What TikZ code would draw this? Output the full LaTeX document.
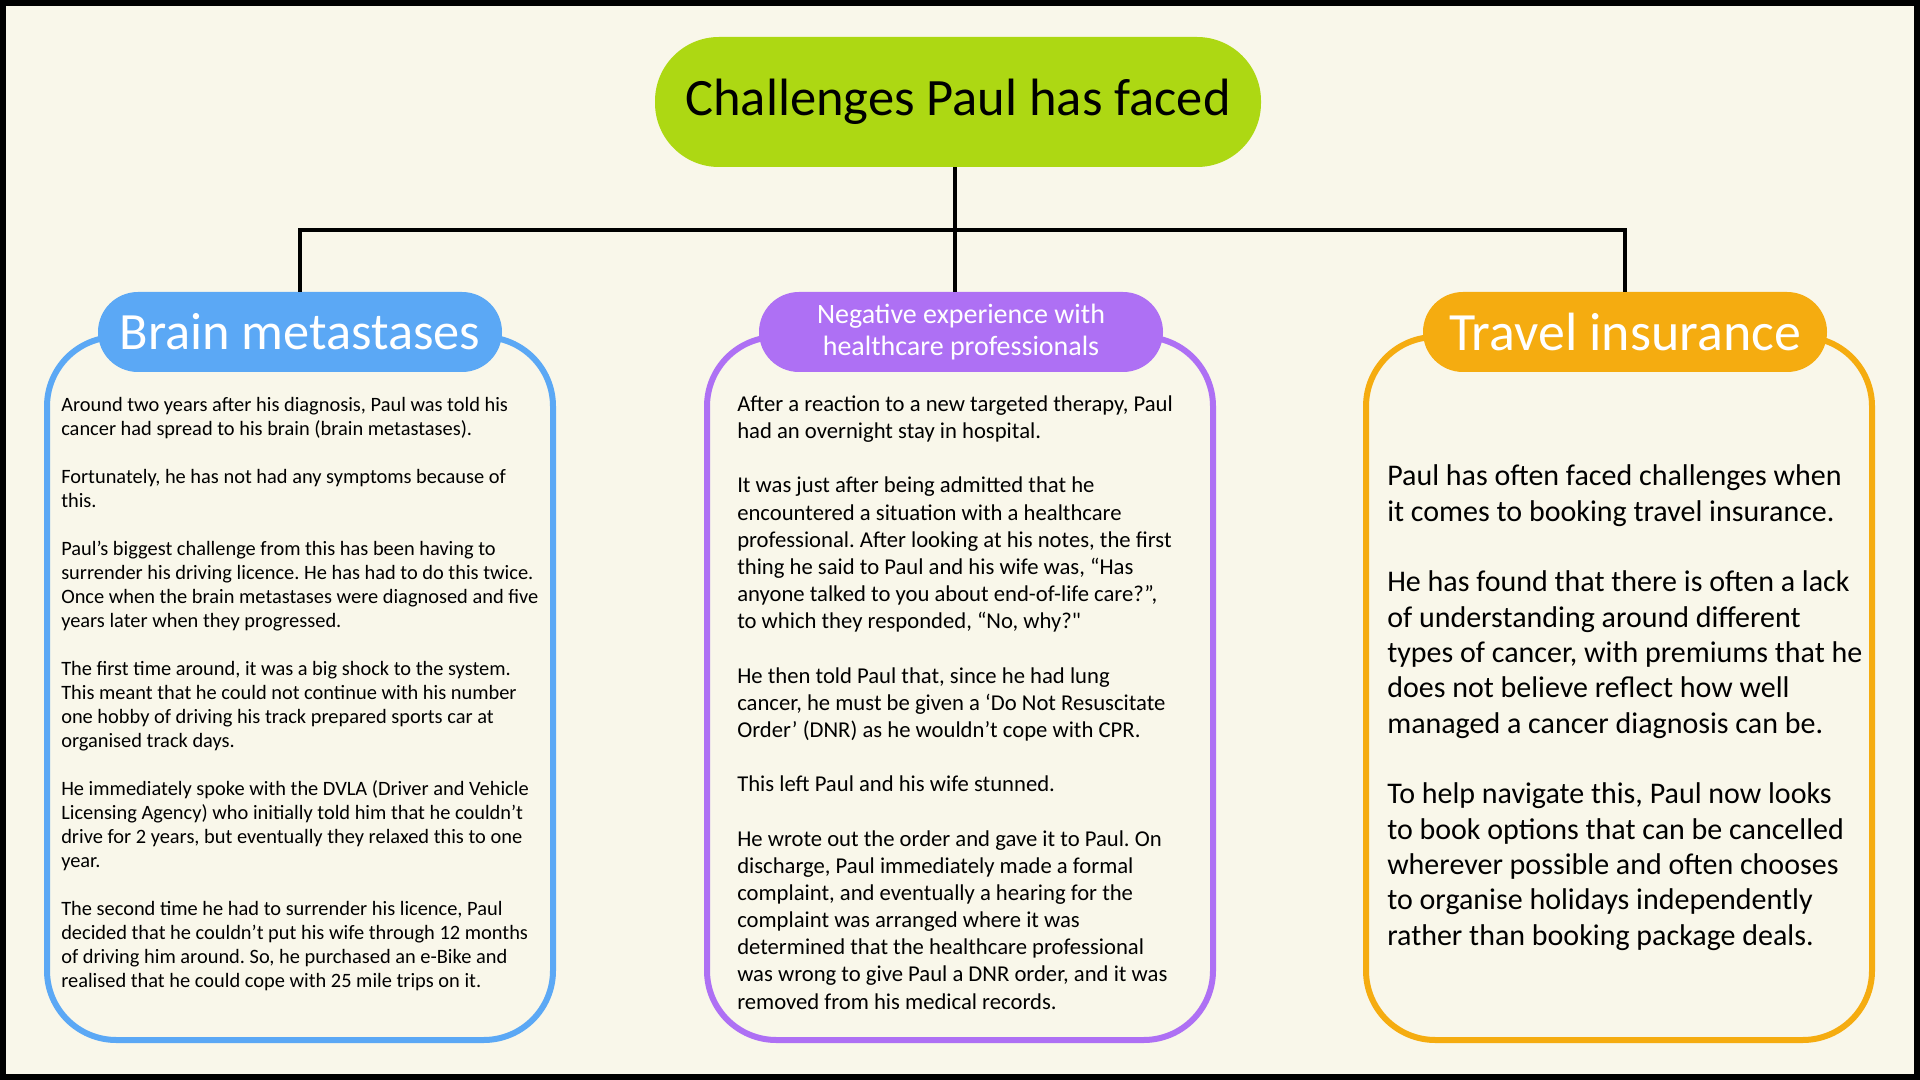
\documentclass[tikz,border=0pt]{standalone}
\usepackage{fontspec}
\setmainfont{Carlito}[Ligatures=TeXOff]
\frenchspacing
\definecolor{bg}{HTML}{F9F7EA}
\definecolor{lime}{HTML}{ADD813}
\definecolor{cblue}{HTML}{5BA8F5}
\definecolor{cpurple}{HTML}{AE70F4}
\definecolor{corange}{HTML}{F5AC10}
\tikzset{
  outlinebox/.style={draw=#1, line width=4.5pt, rounded corners=52pt, minimum width=379.5pt, minimum height=527.25pt, inner sep=0pt},
  pill/.style={fill=#1, rounded corners=30pt, minimum width=303pt, minimum height=60pt, text=white, inner sep=0pt, align=center},
  bodytext/.style={anchor=base west, align=left, inner sep=0pt},
  link/.style={line width=3pt, black},
}
\begin{document}
\begin{tikzpicture}[x=0.75pt,y=-0.75pt]
\useasboundingbox (0,0) rectangle (1920,1080);
\fill[bg] (0,0) rectangle (1920,1080);
\draw[line width=9pt] (0,0) rectangle (1920,1080);

% outline boxes
\node[outlinebox=cblue] (lbox) at (300,688.5) {};
\node[outlinebox=cpurple] (mbox) at (960,688.5) {};
\node[outlinebox=corange] (rbox) at (1619,688.5) {};

% title
\node[fill=lime, rounded corners=48pt, minimum width=454.5pt, minimum height=97.5pt, inner sep=0pt, font=\fontsize{39.4}{48}\selectfont] (title) at (958,102) {Challenges Paul has faced};

% pills
\node[pill=cblue, font=\fontsize{39.3}{48}\selectfont] (lpill) at (300,332) {Brain metastases};
\node[pill=cpurple, font=\fontsize{21}{24}\selectfont] (mpill) at (961,332) {Negative experience with\\healthcare professionals};
\node[pill=corange, font=\fontsize{40.4}{48}\selectfont] (rpill) at (1625,332) {Travel insurance};

% connectors
\coordinate (bar) at (955,230);
\draw[link] (title.south -| bar) -- (mpill.north -| bar);
\draw[link] (lpill.north) |- (bar) -| (rpill.north);

% texts (anchored at the baseline of their last line)
\node[bodytext, font=\fontsize{15.3}{18}\selectfont] (ltext) at (61,987) {%
Around two years after his diagnosis, Paul was told his\\
cancer had spread to his brain (brain metastases).\\[18pt]
Fortunately, he has not had any symptoms because of\\
this.\\[18pt]
Paul’s biggest challenge from this has been having to\\
surrender his driving licence. He has had to do this twice.\\
Once when the brain metastases were diagnosed and five\\
years later when they progressed.\\[18pt]
The first time around, it was a big shock to the system.\\
This meant that he could not continue with his number\\
one hobby of driving his track prepared sports car at\\
organised track days.\\[18pt]
He immediately spoke with the DVLA (Driver and Vehicle\\
Licensing Agency) who initially told him that he couldn’t\\
drive for 2 years, but eventually they relaxed this to one\\
year.\\[18pt]
The second time he had to surrender his licence, Paul\\
decided that he couldn’t put his wife through 12 months\\
of driving him around. So, he purchased an e-Bike and\\
realised that he could cope with 25 mile trips on it.};

\node[bodytext, font=\fontsize{17}{20.37}\selectfont] (mtext) at (737,1009) {%
After a reaction to a new targeted therapy, Paul\\
had an overnight stay in hospital.\\[20.37pt]
It was just after being admitted that he\\
encountered a situation with a healthcare\\
professional. After looking at his notes, the first\\
thing he said to Paul and his wife was, “Has\\
anyone talked to you about end-of-life care?”,\\
to which they responded, “No, why?"\\[20.37pt]
He then told Paul that, since he had lung\\
cancer, he must be given a ‘Do Not Resuscitate\\
Order’ (DNR) as he wouldn’t cope with CPR.\\[20.37pt]
This left Paul and his wife stunned.\\[20.37pt]
He wrote out the order and gave it to Paul. On\\
discharge, Paul immediately made a formal\\
complaint, and eventually a hearing for the\\
complaint was arranged where it was\\
determined that the healthcare professional\\
was wrong to give Paul a DNR order, and it was\\
removed from his medical records.};

\node[bodytext, font=\fontsize{22.5}{26.5}\selectfont] (rtext) at (1387,945) {%
Paul has often faced challenges when\\
it comes to booking travel insurance.\\[26.5pt]
He has found that there is often a lack\\
of understanding around different\\
types of cancer, with premiums that he\\
does not believe reflect how well\\
managed a cancer diagnosis can be.\\[26.5pt]
To help navigate this, Paul now looks\\
to book options that can be cancelled\\
wherever possible and often chooses\\
to organise holidays independently\\
rather than booking package deals.};
\end{tikzpicture}
\end{document}
